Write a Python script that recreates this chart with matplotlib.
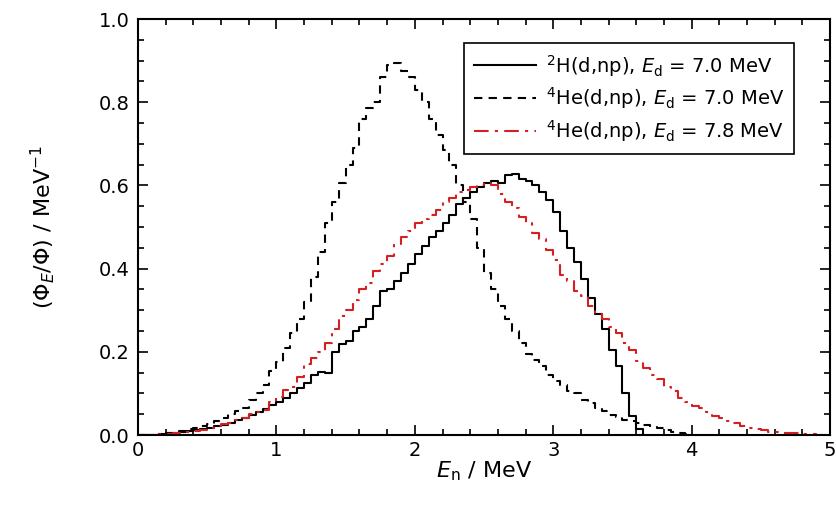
import numpy as np
import matplotlib
matplotlib.use("Agg")
import matplotlib.pyplot as plt
from matplotlib.ticker import MultipleLocator

# neutron energy bins (left edges, MeV), bin width 0.05
bin_width = 0.05
energy = np.round(np.arange(0, 5.0, bin_width), 3)

# 2H(d,np), Ed = 7.0 MeV
h2_70 = [0.0, 0.0, 0.001, 0.002, 0.004, 0.006, 0.008, 0.010, 0.012, 0.015,
         0.018, 0.021, 0.025, 0.030, 0.035, 0.042, 0.048, 0.055, 0.063, 0.072,
         0.080, 0.090, 0.100, 0.112, 0.125, 0.145, 0.152, 0.150, 0.200, 0.218,
         0.225, 0.250, 0.260, 0.280, 0.310, 0.345, 0.352, 0.370, 0.390, 0.410,
         0.435, 0.455, 0.475, 0.490, 0.510, 0.530, 0.555, 0.570, 0.585, 0.595,
         0.605, 0.610, 0.605, 0.625, 0.628, 0.615, 0.610, 0.600, 0.585, 0.565,
         0.535, 0.490, 0.450, 0.415, 0.375, 0.330, 0.290, 0.255, 0.205, 0.165,
         0.100, 0.045, 0.015, 0.0]

# 4He(d,np), Ed = 7.0 MeV
he4_70 = [0.0, 0.0, 0.001, 0.002, 0.004, 0.007, 0.010, 0.014, 0.018, 0.022,
          0.027, 0.033, 0.040, 0.050, 0.058, 0.065, 0.085, 0.100, 0.120, 0.155,
          0.175, 0.210, 0.245, 0.280, 0.320, 0.380, 0.440, 0.510, 0.560, 0.605,
          0.650, 0.690, 0.760, 0.785, 0.800, 0.860, 0.890, 0.895, 0.875, 0.860,
          0.830, 0.800, 0.760, 0.720, 0.685, 0.650, 0.600, 0.560, 0.520, 0.450,
          0.390, 0.350, 0.310, 0.280, 0.250, 0.220, 0.195, 0.180, 0.165, 0.145,
          0.130, 0.120, 0.105, 0.100, 0.085, 0.077, 0.065, 0.058, 0.048, 0.043,
          0.036, 0.033, 0.029, 0.025, 0.020, 0.016, 0.012, 0.008, 0.005, 0.002,
          0.0]

# 4He(d,np), Ed = 7.8 MeV
he4_78 = [0.0, 0.0, 0.001, 0.002, 0.003, 0.004, 0.006, 0.008, 0.010, 0.013,
          0.017, 0.022, 0.027, 0.030, 0.035, 0.042, 0.050, 0.055, 0.060, 0.080,
          0.092, 0.108, 0.115, 0.140, 0.170, 0.185, 0.200, 0.220, 0.255, 0.285,
          0.300, 0.325, 0.350, 0.365, 0.395, 0.410, 0.430, 0.460, 0.475, 0.490,
          0.510, 0.520, 0.530, 0.540, 0.560, 0.570, 0.585, 0.590, 0.595, 0.600,
          0.605, 0.600, 0.580, 0.560, 0.545, 0.525, 0.510, 0.485, 0.470, 0.445,
          0.420, 0.385, 0.370, 0.345, 0.335, 0.310, 0.290, 0.278, 0.260, 0.245,
          0.220, 0.205, 0.178, 0.160, 0.145, 0.135, 0.115, 0.105, 0.090, 0.080,
          0.070, 0.065, 0.055, 0.045, 0.040, 0.033, 0.028, 0.022, 0.018, 0.015,
          0.011, 0.008, 0.007, 0.005, 0.004, 0.004, 0.003, 0.002, 0.001, 0.0]

labels = [r"$^{2}$H(d,np), $E_{\rm d}$ = 7.0 MeV",
          r"$^{4}$He(d,np), $E_{\rm d}$ = 7.0 MeV",
          r"$^{4}$He(d,np), $E_{\rm d}$ = 7.8 MeV"]

x_ticks = [0, 1, 2, 3, 4, 5]
y_ticks = [0.0, 0.2, 0.4, 0.6, 0.8, 1.0]

plt.rcParams["font.family"] = "DejaVu Sans"

fig = plt.figure(figsize=(8.36, 5.07), dpi=100)
ax = fig.add_axes([0.165, 0.142, 0.828, 0.8205])


def draw(values, **kw):
    x = energy[:len(values)]
    ax.step(x, values, where="post", linewidth=1.5, **kw)


draw(h2_70, color="black", linestyle="-", label=labels[0])
draw(he4_70, color="black", linestyle=(0, (4, 3)), label=labels[1])
draw(he4_78, color="#d42020", linestyle=(0, (7, 3, 1.5, 3)), label=labels[2])

ax.set_xlim(0, 5)
ax.set_ylim(0, 1.0)
ax.set_xticks(x_ticks)
ax.set_xticklabels([str(t) for t in x_ticks])
ax.set_yticks(y_ticks)
ax.set_yticklabels([f"{t:.1f}" for t in y_ticks])
ax.xaxis.set_minor_locator(MultipleLocator(0.2))
ax.yaxis.set_minor_locator(MultipleLocator(0.05))
ax.tick_params(which="both", direction="in", top=True, right=True,
               width=1.2, labelsize=14)
ax.tick_params(which="major", length=7)
ax.tick_params(axis="y", which="major", pad=6)
ax.tick_params(axis="x", which="major", pad=4)
ax.tick_params(which="minor", length=4)
for s in ax.spines.values():
    s.set_linewidth(1.5)

ax.set_xlabel(r"$E_{\rm n}$ / MeV", fontsize=16, labelpad=0)
ax.set_ylabel(r"($\Phi_E$/$\Phi$) / MeV$^{-1}$", fontsize=16, labelpad=30)

leg = ax.legend(loc="upper right", bbox_to_anchor=(0.962, 0.966),
                fontsize=14, frameon=True, fancybox=False, edgecolor="black",
                handlelength=3.2, handletextpad=0.5, borderpad=0.5,
                labelspacing=0.35)
leg.get_frame().set_linewidth(1.2)
leg.get_frame().set_alpha(1)

fig.savefig("out.png", dpi=100)
